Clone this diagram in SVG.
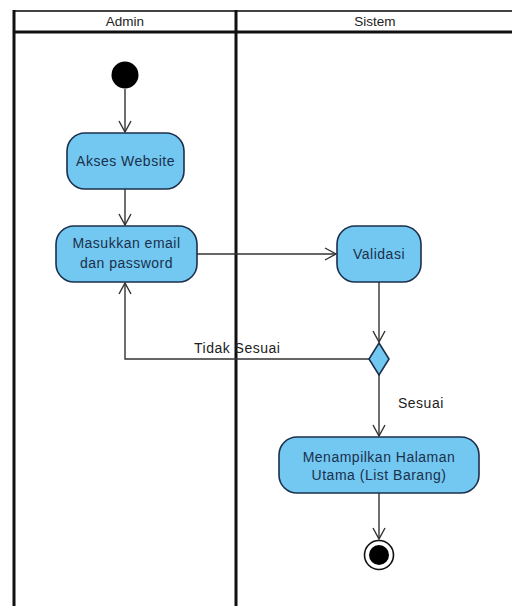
<svg xmlns="http://www.w3.org/2000/svg" width="512" height="606" viewBox="0 0 512 606">
  <style>
    .lane { stroke: #111; stroke-width: 3; fill: none; }
    .lane-top { stroke: #444; stroke-width: 2; fill: none; }
    .head { font-family: "Liberation Sans", Arial, sans-serif; font-size: 13.5px; fill: #222; text-anchor: middle; }
    .act { fill: #72c8f0; stroke: #1c2f4c; stroke-width: 1.6; }
    .act-text { font-family: "Liberation Sans", Arial, sans-serif; font-size: 14px; letter-spacing: 0.5px; fill: #1c2f4c; text-anchor: middle; }
    .flow { stroke: #333; stroke-width: 1.4; fill: none; }
    .guard { font-family: "Liberation Sans", Arial, sans-serif; font-size: 14px; letter-spacing: 0.5px; fill: #222; }
  </style>
  <defs>
    <marker id="open-arrow" viewBox="0 0 14 14" refX="12" refY="7" markerWidth="14" markerHeight="14" markerUnits="userSpaceOnUse" orient="auto">
      <path d="M1,1 L12,7 L1,13" fill="none" stroke="#333" stroke-width="1.4"/>
    </marker>
  </defs>

  <rect width="512" height="606" fill="#ffffff"/>

  <!-- swimlanes -->
  <g id="swimlanes">
    <line class="lane-top" x1="13" y1="11" x2="512" y2="11"/>
    <line class="lane" x1="13" y1="32" x2="512" y2="32"/>
    <line class="lane" x1="14" y1="10" x2="14" y2="606"/>
    <line class="lane" x1="236" y1="10" x2="236" y2="606"/>
    <text class="head" x="125" y="26">Admin</text>
    <text class="head" x="375" y="26">Sistem</text>
  </g>

  <!-- connectors -->
  <g id="connectors">
    <line class="flow" x1="125" y1="89" x2="125" y2="132" marker-end="url(#open-arrow)"/>
    <line class="flow" x1="125" y1="189" x2="125" y2="225" marker-end="url(#open-arrow)"/>
    <line class="flow" x1="197" y1="254" x2="336" y2="254" marker-end="url(#open-arrow)"/>
    <line class="flow" x1="379" y1="282" x2="379" y2="342" marker-end="url(#open-arrow)"/>
    <polyline class="flow" points="369,359 125,359 125,283" marker-end="url(#open-arrow)"/>
    <line class="flow" x1="379" y1="375" x2="379" y2="436" marker-end="url(#open-arrow)"/>
    <line class="flow" x1="379" y1="493" x2="379" y2="539" marker-end="url(#open-arrow)"/>
    <text class="guard" x="194" y="353">Tidak Sesuai</text>
    <text class="guard" x="398" y="408">Sesuai</text>
  </g>

  <!-- nodes -->
  <g id="start">
    <circle cx="125" cy="75" r="13.5" fill="#000"/>
  </g>

  <g id="akses-website">
    <rect class="act" x="67" y="133" width="117" height="56" rx="18"/>
    <text class="act-text" x="125.5" y="166">Akses Website</text>
  </g>

  <g id="masukkan-email">
    <rect class="act" x="56" y="226" width="141" height="56" rx="18"/>
    <text class="act-text" x="126.5" y="248">Masukkan email</text>
    <text class="act-text" x="126.5" y="268">dan password</text>
  </g>

  <g id="validasi">
    <rect class="act" x="337" y="226" width="84" height="56" rx="18"/>
    <text class="act-text" x="379" y="259">Validasi</text>
  </g>

  <g id="decision">
    <polygon class="act" points="379,343 389,359 379,375 369,359"/>
  </g>

  <g id="menampilkan-halaman">
    <rect class="act" x="279" y="437" width="200" height="56" rx="18"/>
    <text class="act-text" x="379" y="462">Menampilkan Halaman</text>
    <text class="act-text" x="379" y="480">Utama (List Barang)</text>
  </g>

  <g id="end">
    <circle cx="379" cy="555" r="14.5" fill="#fff" stroke="#111" stroke-width="1.6"/>
    <circle cx="379" cy="555" r="10" fill="#000"/>
  </g>
</svg>
